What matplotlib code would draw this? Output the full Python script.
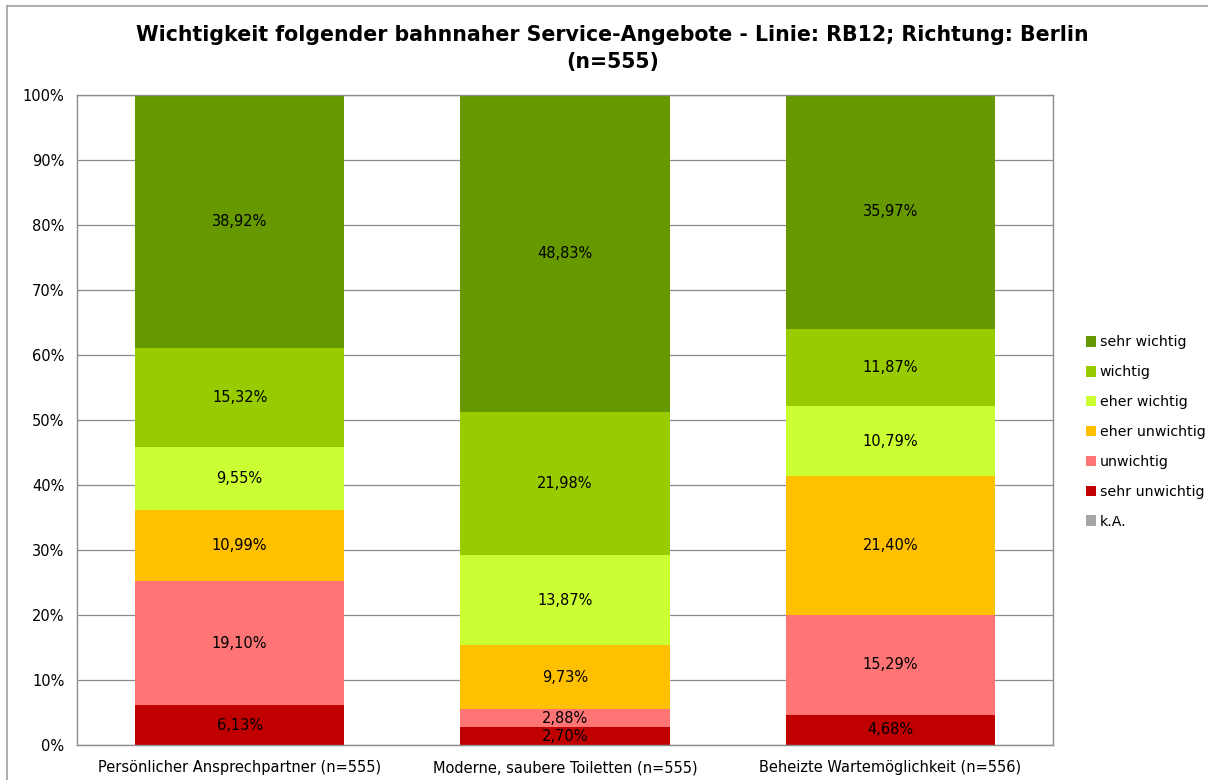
import matplotlib
matplotlib.use("Agg")
import matplotlib.pyplot as plt
import numpy as np
from matplotlib.lines import Line2D

categories = ["Persönlicher Ansprechpartner (n=555)",
              "Moderne, saubere Toiletten (n=555)",
              "Beheizte Wartemöglichkeit (n=556)"]
# stacked from bottom to top
series_names = ["sehr unwichtig", "unwichtig", "eher unwichtig",
                "eher wichtig", "wichtig", "sehr wichtig", "k.A."]
sehr_unwichtig = [6.13, 2.70, 4.68]
unwichtig = [19.10, 2.88, 15.29]
eher_unwichtig = [10.99, 9.73, 21.40]
eher_wichtig = [9.55, 13.87, 10.79]
wichtig = [15.32, 21.98, 11.87]
sehr_wichtig = [38.92, 48.83, 35.97]
k_a = [0.0, 0.0, 0.0]
colors = ["#C00000", "#FF7575", "#FFC000", "#CCFF33", "#99CC00", "#669900", "#A6A6A6"]

plt.rcParams['font.family'] = ['DejaVu Sans']

fig = plt.figure(figsize=(12.08, 7.8), dpi=100)
ax = fig.add_axes([77/1208, 1-745/780, (1053-77)/1208, (745-95)/780])

x = np.arange(len(categories))
data = [sehr_unwichtig, unwichtig, eher_unwichtig, eher_wichtig, wichtig, sehr_wichtig, k_a]
bottom = np.zeros(len(categories))
bars = []
for name, vals, c in zip(series_names, data, colors):
    vals = np.array(vals)
    b = ax.bar(x, vals, 0.643, bottom=bottom, color=c, label=name, zorder=2)
    bars.append(b)
    for xi, v, bt in zip(x, vals, bottom):
        if v > 0:
            ax.text(xi, bt + v/2, f"{v:.2f}%".replace(".", ","), ha="center", va="center",
                    fontsize=10.5, color="black", zorder=3)
    bottom += vals

ax.set_xlim(-0.5, 2.5)
ax.set_ylim(0, 100)
ax.set_yticks(np.arange(0, 101, 10))
ax.set_yticklabels([f"{v}%" for v in range(0, 101, 10)], fontsize=10.5)
ax.set_xticks(x)
ax.set_xticklabels(categories, fontsize=10.5)
ax.tick_params(length=0, pad=9)
ax.tick_params(axis="x", pad=11)
ax.grid(axis="y", color="#8c8c8c", linewidth=0.9, zorder=0)
for s in ax.spines.values():
    s.set_color("#8c8c8c")
    s.set_linewidth(1.0)

fig.text(0.507, 1-35/780, "Wichtigkeit folgender bahnnaher Service-Angebote - Linie: RB12; Richtung: Berlin",
         ha="center", va="center", fontsize=14.8, fontweight="bold")
fig.text(0.507, 1-62/780, "(n=555)", ha="center", va="center", fontsize=14.8, fontweight="bold")

handles = [bars[i] for i in [5, 4, 3, 2, 1, 0, 6]]
labels = [series_names[i] for i in [5, 4, 3, 2, 1, 0, 6]]
fig.legend(handles, labels, loc="center left", bbox_to_anchor=(1080/1208, 1-432/780),
           frameon=False, fontsize=10.2, handlelength=0.75, handleheight=0.75,
           handletextpad=0.25, labelspacing=1.12, borderaxespad=0)

# outer chart border
fig.add_artist(Line2D([7/1208, 7/1208], [0, 1-6/780], color="#a0a0a0", lw=1.2, transform=fig.transFigure))
fig.add_artist(Line2D([7/1208, 1], [1-6/780, 1-6/780], color="#a0a0a0", lw=1.2, transform=fig.transFigure))

fig.savefig("out.png", dpi=100)
